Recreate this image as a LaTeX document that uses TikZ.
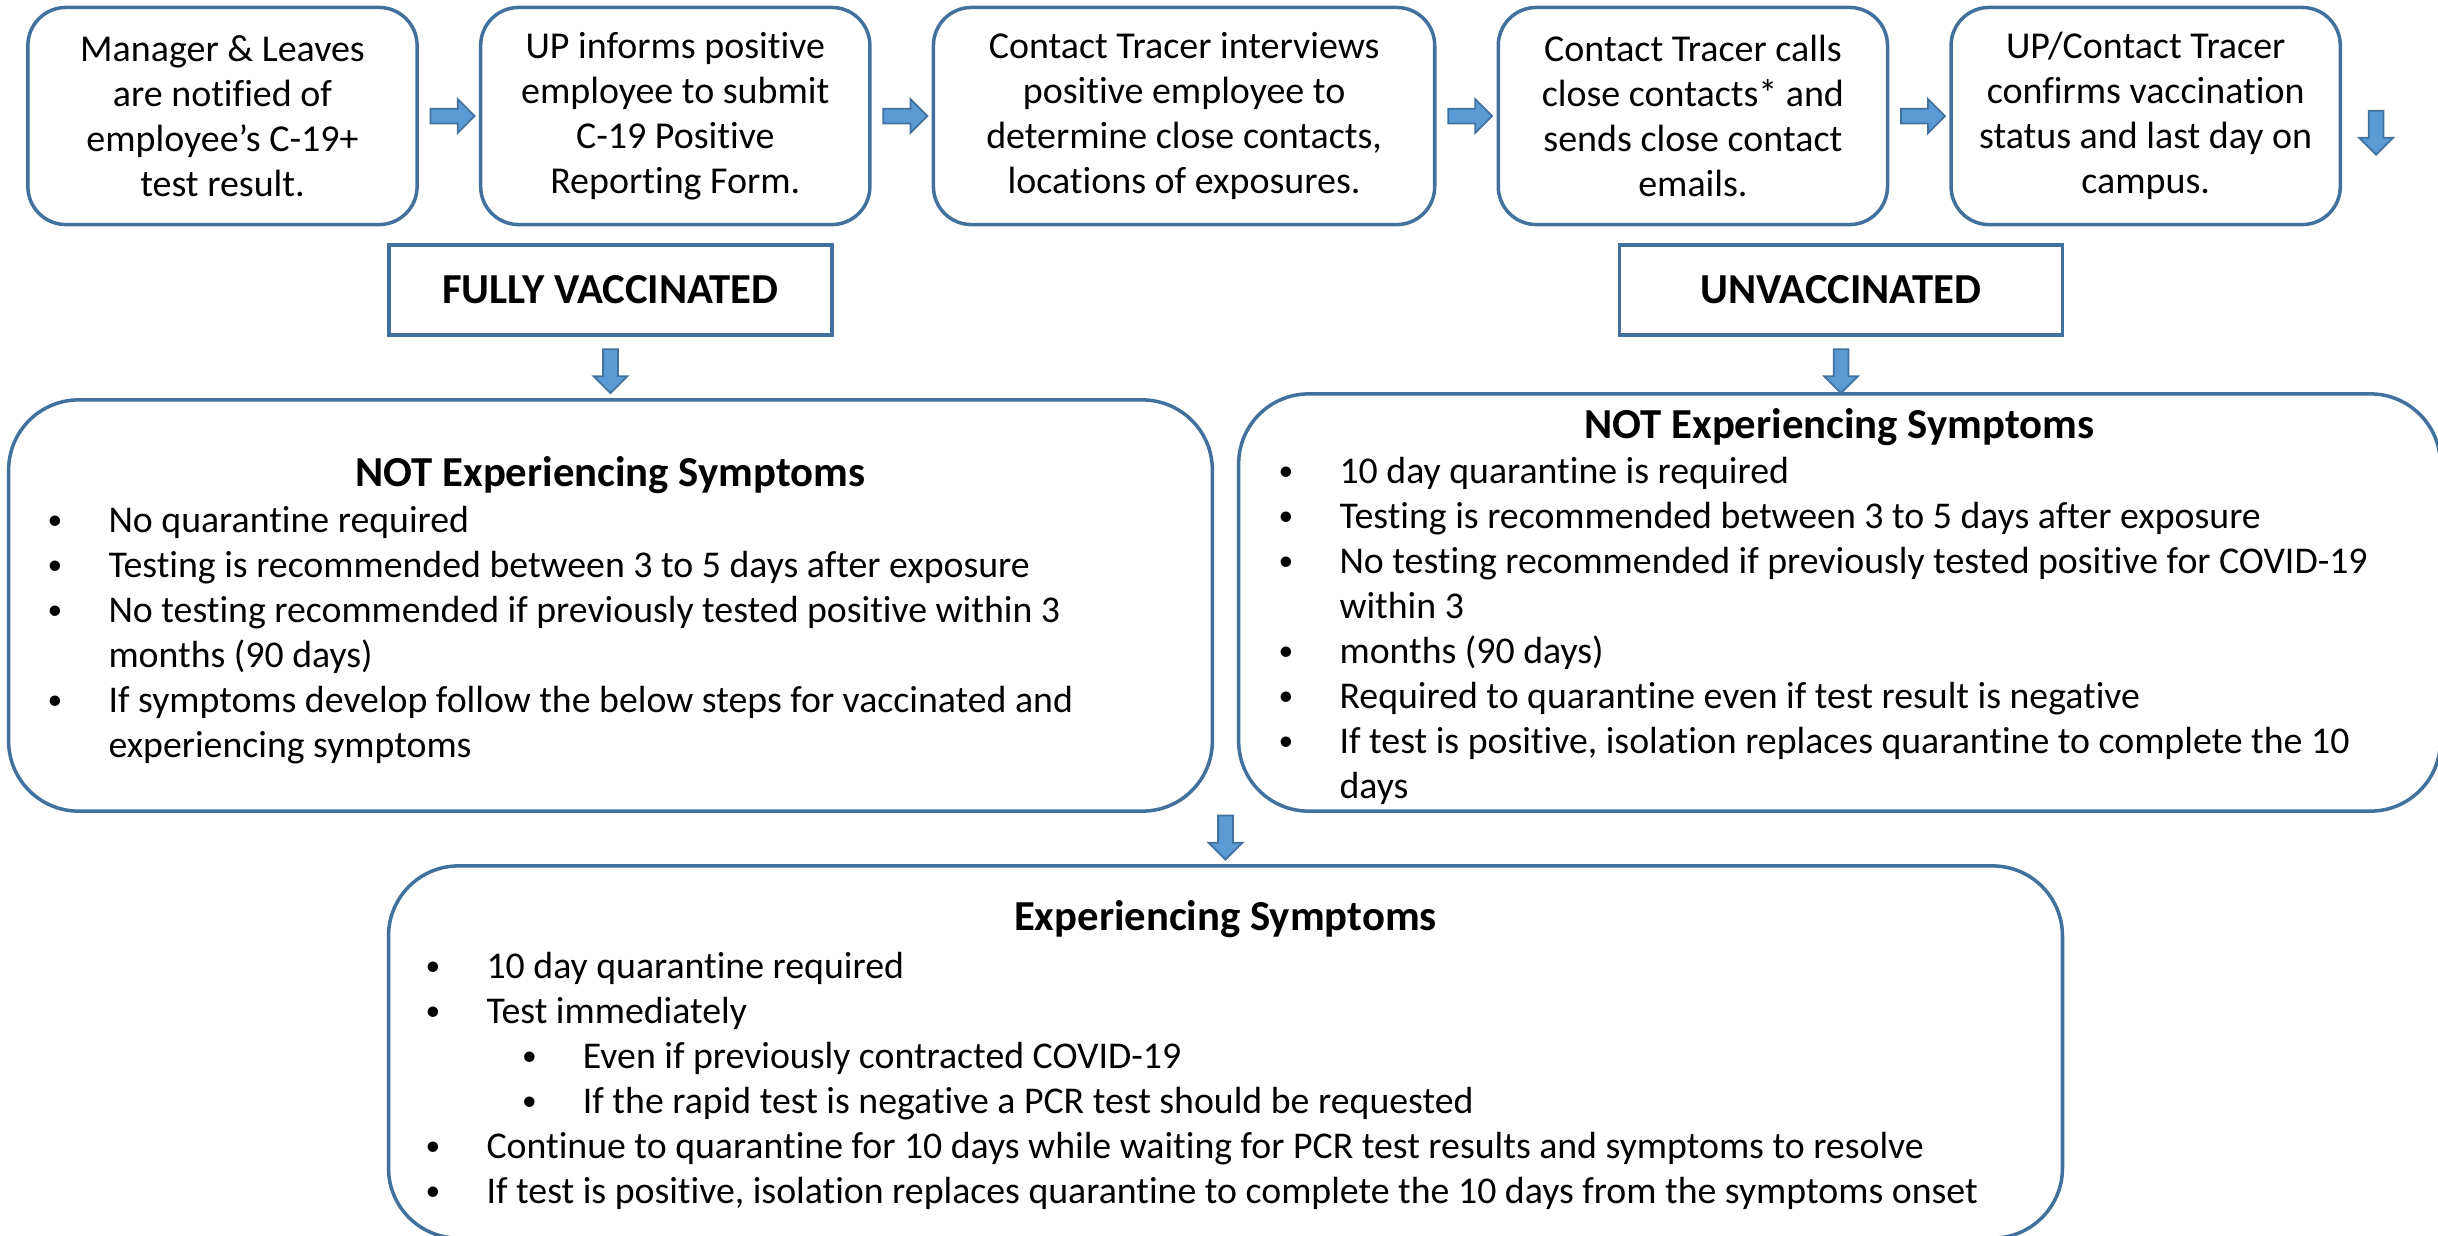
\documentclass[tikz,border=0pt]{standalone}
\usepackage{fontspec}
\setmainfont{Carlito}[Ligatures=NoCommon]
\usetikzlibrary{shapes.arrows}
\usetikzlibrary{positioning}
\usetikzlibrary{calc}

\definecolor{edgeblue}{HTML}{41719C}
\definecolor{fillblue}{HTML}{5B9BD5}

\newcommand{\bul}{\makebox[17.3pt][l]{\raisebox{0.08em}{\scalebox{0.78}{\textbullet}}}}
\newcommand{\hang}{\hspace*{17.3pt}}
\newcommand{\subbul}{\hspace*{27.4pt}\bul}

\tikzset{
  stepbox/.style={draw=edgeblue, line width=1pt, rounded corners=0.38cm,
    minimum width=3.89cm, minimum height=2.17cm, inner sep=0pt, align=center,
    font=\fontsize{10.8}{12.75}\selectfont},
  groupbox/.style={draw=edgeblue, line width=1pt, minimum width=4.43cm,
    minimum height=0.9cm, font=\bfseries\fontsize{12.15}{14}\selectfont},
  infobox/.style={draw=edgeblue, line width=1pt, rounded corners=0.7cm},
  blockarrow/.style={single arrow, draw=edgeblue, fill=fillblue, line width=0.5pt,
    minimum height=0.44cm, minimum width=0.32cm, inner sep=0.065cm,
    single arrow head extend=0.095cm},
  headtext/.style={anchor=base, inner sep=0pt, font=\bfseries\fontsize{12.15}{14}\selectfont},
  listtext/.style={anchor=north west, inner sep=0pt, align=left,
    font=\fontsize{10.75}{12.78}\selectfont}
}

\begin{document}
\begin{tikzpicture}[x=0.01cm, y=-0.01cm]
\useasboundingbox (0,0) rectangle (2438,1235);

% steps along the top
\node[stepbox] (notify) at (222.5,116) {Manager \& Leaves\\are notified of\\employee’s C-19+\\test result.};
\node[stepbox, right=0.6cm of notify] (inform) {UP informs positive\\employee to submit\\C-19 Positive\\Reporting Form.};
\node[stepbox, minimum width=5.01cm, right=0.6cm of inform] (interview) {Contact Tracer interviews\\positive employee to\\determine close contacts,\\locations of exposures.};
\node[stepbox, right=0.6cm of interview] (calls) {Contact Tracer calls\\close contacts* and\\sends close contact\\emails.};
\node[stepbox, right=0.6cm of calls] (confirm) {UP/Contact Tracer\\confirms vaccination\\status and last day on\\campus.};

\node[blockarrow] (arr1) at ($(notify.east)!0.5!(inform.west)$) {};
\node[blockarrow] (arr2) at ($(inform.east)!0.5!(interview.west)$) {};
\node[blockarrow] (arr3) at ($(interview.east)!0.5!(calls.west)$) {};
\node[blockarrow] (arr4) at ($(calls.east)!0.5!(confirm.west)$) {};
\node[blockarrow, rotate=-90] (arr5) at ($(confirm.east)+(34,13)$) {};

% vaccination status
\node[groupbox] (full) at (610.5,290) {FULLY VACCINATED};
\node[groupbox] (unvac) at (1841,290) {UNVACCINATED};

\node[infobox, minimum width=12.03cm, minimum height=4.11cm] (vacc) at (610.5,605.5) {};
\node[infobox, minimum width=12.01cm, minimum height=4.17cm] (novacc) at (1839.5,602.5) {};
\node[infobox, minimum width=16.73cm, minimum height=3.72cm] (sympt) at (1225.5,1052) {};

\node[blockarrow, rotate=-90] (down1) at ($(full.south)!0.5!(vacc.north)$) {};
\node[blockarrow, rotate=-90] (down2) at (unvac.south |- down1) {};
\node[blockarrow, rotate=-90] (down3) at ($(vacc.south east)!0.5!(novacc.south west)+(0,21)$) {};

% fully vaccinated
\node[headtext] (vacchead) at (610.5,486) {NOT Experiencing Symptoms};
\node[listtext] (vacclist) at (47,506) {\bul No quarantine required\\
\bul Testing is recommended between 3 to 5 days after exposure\\
\bul No testing recommended if previously tested positive within 3\\
\hang months (90 days)\\
\bul If symptoms develop follow the below steps for vaccinated and\\
\hang experiencing symptoms};

% unvaccinated
\node[headtext] (novacchead) at (1839.5,438) {NOT Experiencing Symptoms};
\node[listtext] (novacclist) at (1278,457) {\bul 10 day quarantine is required\\
\bul Testing is recommended between 3 to 5 days after exposure\\
\bul No testing recommended if previously tested positive for COVID-19\\
\hang within 3\\
\bul months (90 days)\\
\bul Required to quarantine even if test result is negative\\
\bul If test is positive, isolation replaces quarantine to complete the 10\\
\hang days};

% symptoms
\node[headtext] (symphead) at (1225.5,930) {Experiencing Symptoms};
\node[listtext] (symplist) at (425,952) {\bul 10 day quarantine required\\
\bul Test immediately\\
\subbul Even if previously contracted COVID-19\\
\subbul If the rapid test is negative a PCR test should be requested\\
\bul Continue to quarantine for 10 days while waiting for PCR test results and symptoms to resolve\\
\bul If test is positive, isolation replaces quarantine to complete the 10 days from the symptoms onset};

\end{tikzpicture}
\end{document}
